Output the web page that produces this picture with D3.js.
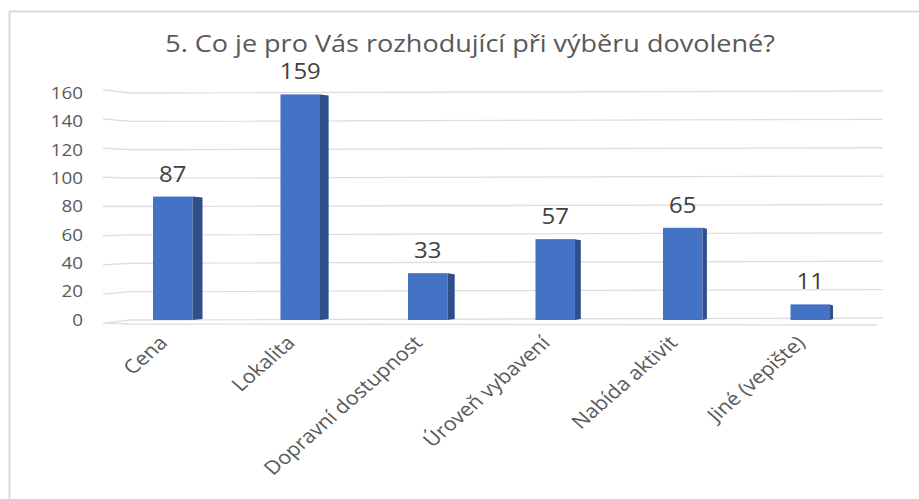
<!DOCTYPE html>
<html>
<head>
<meta charset="utf-8">
<script src="https://cdn.jsdelivr.net/npm/d3@7"></script>
<style>
    body { margin: 0; background: #fff; }
    svg { display: block; }
    text { font-family: 'Open Sans', sans-serif; }
</style>
</head>
<body>
<svg id="chart"></svg>
<script>
'use strict';

const title = '5. Co je pro Vás rozhodující při výběru dovolené?';
const categories = ['Cena', 'Lokalita', 'Dopravní dostupnost', 'Úroveň vybavení', 'Nabída aktivit', 'Jiné (vepište)'];
const values = [87, 159, 33, 57, 65, 11];
const yTicks = [0, 20, 40, 60, 80, 100, 120, 140, 160];

const width = 919;
const height = 499;
const stretch = 1.14; // the picture is a bit wider than tall

const svg = d3.select('#chart')
    .attr('width', width)
    .attr('height', height);

// frame (only top and left edges are visible)
svg.append('path')
    .attr('d', `M9.5,${height}V11.5H${width}`)
    .attr('fill', 'none')
    .attr('stroke', '#d9d9d9')
    .attr('stroke-width', 2);

const x = d3.scaleBand()
    .domain(categories)
    .range([109, 874])
    .paddingInner(0.69)
    .paddingOuter(0.345);

const y = d3.scaleLinear()
    .domain([0, 160])
    .range([320, 93]);

// side depth shrinks to the right (perspective)
const depth = d3.scaleLinear()
    .domain([x(categories[0]), x(categories[categories.length - 1])])
    .range([10, 3]);

svg.append('text')
    .attr('transform', `translate(470,52) scale(${stretch},1)`)
    .attr('text-anchor', 'middle')
    .attr('font-size', 23.7)
    .attr('fill', '#595959')
    .text(title);

// gridlines with a small bend on the left wall
const grid = svg.append('g')
    .attr('fill', 'none')
    .attr('stroke', '#dedede')
    .attr('stroke-width', 1.3);

grid.selectAll('path')
    .data(yTicks)
    .join('path')
    .attr('d', t => {
        const yy = y(t);
        const left = yy + (yy - y(80)) * 0.03;
        return `M103,${left}L130,${yy}L883,${yy - 2}`;
    });

// floor front edge
grid.append('path')
    .attr('d', `M106,${y(0) + 3}L130,${y(0) + 4}L877,${y(0) + 5}`);

svg.append('g')
    .attr('font-size', 16.5)
    .attr('fill', '#595959')
    .attr('text-anchor', 'end')
    .selectAll('text')
    .data(yTicks)
    .join('text')
    .attr('transform', t => `translate(83,${y(t)}) scale(${stretch},1)`)
    .attr('dy', '.35em')
    .text(t => t);

const bars = svg.append('g')
    .selectAll('g')
    .data(categories.map((c, i) => ({cat: c, value: values[i]})))
    .join('g');

bars.append('rect')
    .attr('x', d => x(d.cat))
    .attr('y', d => y(d.value))
    .attr('width', x.bandwidth())
    .attr('height', d => y(0) - y(d.value))
    .attr('fill', '#4472c4');

bars.append('path')
    .attr('fill', '#2f4f8a')
    .attr('d', d => {
        const x0 = x(d.cat) + x.bandwidth();
        const dp = depth(x(d.cat));
        return `M${x0},${y(d.value)}L${x0 + dp},${y(d.value) + 1}L${x0 + dp},${y(0) - 1}L${x0},${y(0)}Z`;
    });

bars.append('text')
    .attr('transform', d => `translate(${x(d.cat) + x.bandwidth() / 2},${y(d.value) - 15}) scale(${stretch},1)`)
    .attr('text-anchor', 'middle')
    .attr('font-size', 21)
    .attr('fill', '#404040')
    .text(d => d.value);

svg.append('g')
    .attr('font-size', 19)
    .attr('fill', '#595959')
    .attr('text-anchor', 'end')
    .selectAll('text')
    .data(categories)
    .join('text')
    .attr('transform', c => `translate(${x(c) + x.bandwidth() / 2 - 4},344) scale(${stretch},1) rotate(-45)`)
    .text(c => c);
</script>
</body>
</html>
